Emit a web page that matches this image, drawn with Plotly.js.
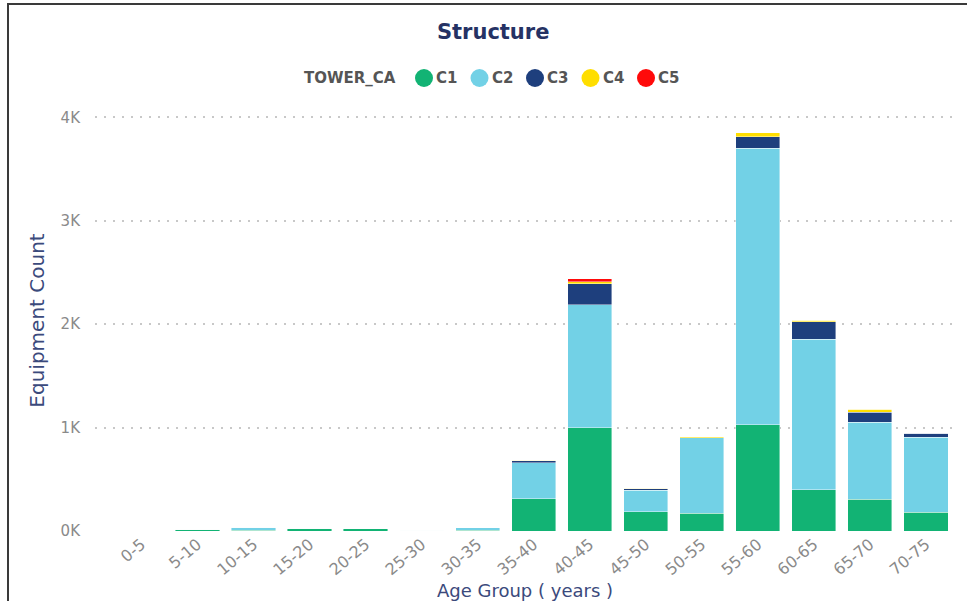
<!DOCTYPE html>
<html>
<head>
<meta charset="utf-8">
<script src="https://cdn.plot.ly/plotly-3.0.1.min.js"></script>
<style>
  html, body { margin: 0; padding: 0; background: #fff; }
  #chart { width: 967px; height: 601px; }
  #frame { position: absolute; left: 7px; top: 3px; width: 970px; height: 610px;
           border-left: 2px solid #3a3a3a; border-top: 2px solid #3a3a3a; pointer-events: none; }
</style>
</head>
<body>
<div id="chart"></div>
<div id="frame"></div>
<script>
const categories = ["0-5","5-10","10-15","15-20","20-25","25-30","30-35","35-40","40-45","45-50","50-55","55-60","60-65","65-70","70-75"];
const c1 = [0, 15, 5, 25, 20, 0, 8, 310, 1000, 185, 170, 1030, 400, 305, 180];
const c2 = [0, 0, 30, 0, 0, 6, 25, 350, 1190, 210, 730, 2670, 1455, 745, 725];
const c3 = [0, 0, 0, 0, 0, 0, 0, 18, 200, 15, 3, 115, 170, 100, 40];
const c4 = [0, 0, 0, 0, 0, 0, 0, 5, 22, 5, 10, 35, 13, 30, 0];
const c5 = [0, 0, 0, 0, 0, 0, 0, 0, 27, 0, 0, 0, 0, 0, 5];
const seriesNames = ["C1","C2","C3","C4","C5"];
const seriesColors = ["#12B374","#72D1E6","#1E3F7D","#FFDE00","#FF0A0A"];
const seriesValues = [c1, c2, c3, c4, c5];
const legendTitle = "TOWER_CA";
const yTickVals = [0, 1000, 2000, 3000, 4000];
const yTickText = ["0K","1K","2K","3K","4K"];

const FONT = "'DejaVu Sans', sans-serif";

// plot area geometry (pixels)
const W = 967, H = 601, ML = 95, MR = 12, MT = 110, MB = 70;
const PW = W - ML - MR, PH = H - MT - MB;
const px2x = p => (p - ML) / PW;
const py2y = p => (H - MB - p) / PH;

const traces = [];
seriesValues.forEach((vals, i) => {
  traces.push({
    type: "bar", x: categories, y: vals, name: seriesNames[i],
    marker: { color: seriesColors[i], line: { width: 0.6, color: "rgba(255,255,255,0.7)" } },
    showlegend: false, hoverinfo: "x+y+name"
  });
});

// custom legend in the Power BI style: title, then dot + label per series
const legendY = 78, legendStart = 424, legendStep = 55.5, dotR = 9;
const annotations = [{
  text: legendTitle, xref: "paper", yref: "paper",
  x: px2x(398), y: py2y(legendY), xanchor: "right", yanchor: "middle",
  showarrow: false, font: { family: FONT, size: 15, color: "#555555", weight: 700 }
}];
const shapes = [];
seriesNames.forEach((n, i) => {
  const cx = legendStart + i * legendStep;
  shapes.push({
    type: "circle", xref: "paper", yref: "paper", xsizemode: "pixel", ysizemode: "pixel",
    xanchor: px2x(cx), yanchor: py2y(legendY),
    x0: -dotR, x1: dotR, y0: -dotR, y1: dotR,
    fillcolor: seriesColors[i], line: { width: 0 }
  });
  annotations.push({
    text: n, xref: "paper", yref: "paper",
    x: px2x(cx + dotR + 1), y: py2y(legendY), xanchor: "left", yanchor: "middle",
    showarrow: false, font: { family: FONT, size: 15, color: "#555555", weight: 700 }
  });
});

const layout = {
  width: W, height: H,
  paper_bgcolor: "#ffffff", plot_bgcolor: "#ffffff",
  barmode: "stack", bargap: 0.21,
  margin: { l: ML, r: MR, t: MT, b: MB },
  font: { family: FONT, color: "#777777", size: 14 },
  showlegend: false,
  title: {
    text: "Structure", font: { family: FONT, size: 21, color: "#253264", weight: 700 },
    x: 0.51, xanchor: "center", xref: "container", y: 0.948, yanchor: "middle", yref: "container"
  },
  xaxis: {
    type: "category", range: [-0.83, 14.52],
    tickangle: -40, tickfont: { family: FONT, size: 16, color: "#8a8a8a" },
    showgrid: false, zeroline: false, showline: false, ticks: "",
    title: { text: "Age Group ( years )", font: { family: FONT, size: 18, color: "#3B4A7C" }, standoff: 10 },
    automargin: false
  },
  yaxis: {
    range: [0, 4072], tickvals: yTickVals, ticktext: yTickText,
    tickfont: { family: FONT, size: 15, color: "#8a8a8a" },
    showgrid: true, gridcolor: "#c8c8c8", griddash: "2px,7px", gridwidth: 2,
    zeroline: false, showline: false, ticks: "", ticklabelstandoff: 14,
    title: { text: "Equipment Count", font: { family: FONT, size: 20, color: "#3B4A7C" }, standoff: 10 },
    automargin: false
  },
  annotations: annotations,
  shapes: shapes
};

Plotly.newPlot("chart", traces, layout, { displayModeBar: false, staticPlot: true });
</script>
</body>
</html>
